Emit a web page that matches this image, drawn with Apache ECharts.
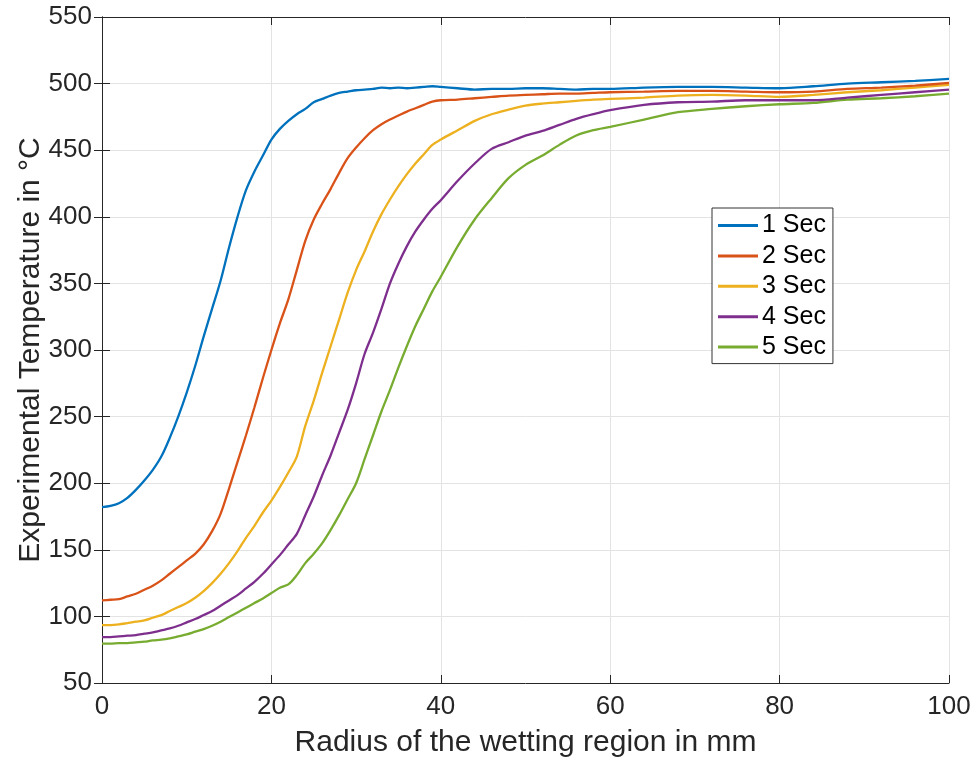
<!DOCTYPE html>
<html><head><meta charset="utf-8">
<script src="https://cdn.jsdelivr.net/npm/echarts@6/dist/echarts.min.js"></script>
<style>html,body{margin:0;padding:0;background:#fff}#c{width:977px;height:764px}</style>
</head><body><div id="c"></div>
<script>
var xValues = [0,1,2,3,4,5,6,7,8,9,10,11,12,13,14,15,16,17,18,19,20,21,22,23,24,25,26,27,28,29,30,31,32,33,34,35,36,37,38,39,40,
  42,44,46,48,50,52,54,56,58,60,64,68,72,76,80,84,88,92,96,100];
var sec1 = [182,183,185,189,195,202,210,220,234,250,268,288,310,331,352,377,400,420,434,446,458,466,472,477,481,486,488.5,491,493,494,495,495.5,496,497,496.5,497,496.5,497,497.5,498,497.5,
  496.5,495.5,496,496,496.5,496.5,496,495.5,496,496,497,497.5,497.5,497,496.5,498,500,501,502,503.5];
var sec2 = [112,112.5,113,115,117,120,123,127,132,137,142,147,154,164,177,196,216,236,257,279,300,320,338,360,382,398,410,421,433,444,452,459,465,469.5,473,476,479,481.5,484,486.5,487.5,
  488,489,490,491,491.5,492,492.5,492.5,493,493.5,494,494.5,494.5,494,493.5,494,496,497,498.5,500.5];
var sec3 = [93.5,93.5,94,95,96,97,99,101,104,107,110,114,119,125,132,140,149,159,168,178,187,197,208,220,243,262,283,303,323,343,360,374,389,402,413,423,432,440,447,454,458,
  465,472,477,480.5,483.5,485,486,487,488,488.5,489.5,491,491.5,491,490,491.5,493.5,495,497,499];
var sec4 = [84.5,84.5,85,85.5,86,87,88,89.5,91,93,95.5,98,101,104,108,112,116,121,126,132,139,146,154,162,176,190,206,221,238,255,275,297,313,331,350,365,378,389,398,406,412.5,
  427,440,451,456,461,464.5,469,473.5,477,480,484,486,486.5,487.5,487.5,487.5,489.5,491.5,493.5,495.5];
var sec5 = [79.5,79.5,80,80,80.5,81,82,82.5,83.5,85,86.5,88.5,90.5,93,96,99.5,103,106.5,110,113.5,117.5,121.5,124,131,140,147,155,165,176,188,200,218,236,254,270,287,303,318,331,344,355,
  378,398,414,429,439,446,454,461,465,467.5,473,478.5,481,483,484.5,485.5,488,489,490.5,492.5];
var seriesNames = ['1 Sec','2 Sec','3 Sec','4 Sec','5 Sec'];
var colors = ['#0072BD','#D95319','#EDB120','#7E2F8E','#77AC30'];
var xTicks = [0,20,40,60,80,100];
var yTicks = [50,100,150,200,250,300,350,400,450,500,550];

function pairs(ys){ return xValues.map(function(x,i){ return [x, ys[i]]; }); }
var allData = [sec1,sec2,sec3,sec4,sec5];
var font = 'Arial, "Liberation Sans", Helvetica, sans-serif';
var axisCol = '#262626';
var chart = echarts.init(document.getElementById('c'), null, {renderer:'canvas'});
var baseAxis = {
  axisLine:{show:true, lineStyle:{color:axisCol, width:1}},
  axisTick:{show:true, inside:true, length:8, lineStyle:{color:axisCol}},
  splitLine:{show:false}
};
chart.setOption({
  animation:false,
  color: colors,
  grid:{left:102, right:28, top:17, bottom:81, containLabel:false},
  legend:{
    data: seriesNames,
    left:712, top:208, orient:'vertical',
    backgroundColor:'#fff', borderColor:'#333', borderWidth:1,
    padding:[5,7,4,6], itemGap:5.4, itemWidth:40, itemHeight:3, icon:'rect',
    textStyle:{fontFamily:font, fontSize:25, color:'#000', lineHeight:25, padding:[0,0,0,-1]}
  },
  xAxis:[
    Object.assign({}, baseAxis, {
      type:'value', min:0, max:100, interval:20, position:'bottom',
      name:'Radius of the wetting region in mm', nameLocation:'middle', nameGap:45,
      nameMoveOverlap:false,
      nameTextStyle:{fontFamily:font, fontSize:30, color:axisCol},
      axisLabel:{fontFamily:font, fontSize:26, color:axisCol, margin:11},
      splitLine:{show:true, lineStyle:{color:'#e3e3e3', width:1}}
    }),
    Object.assign({}, baseAxis, {
      type:'value', min:0, max:100, interval:20, position:'top',
      axisLabel:{show:false}
    })
  ],
  yAxis:[
    Object.assign({}, baseAxis, {
      type:'value', min:50, max:550, interval:50, position:'left',
      name:'Experimental Temperature in \u00B0C', nameLocation:'middle', nameGap:56,
      nameMoveOverlap:false,
      nameTextStyle:{fontFamily:font, fontSize:30, color:axisCol},
      axisLabel:{fontFamily:font, fontSize:26, color:axisCol, margin:10},
      splitLine:{show:true, lineStyle:{color:'#e3e3e3', width:1}}
    }),
    Object.assign({}, baseAxis, {
      type:'value', min:50, max:550, interval:50, position:'right',
      axisLabel:{show:false}
    })
  ],
  series: seriesNames.map(function(n,i){
    return {name:n, type:'line', data:pairs(allData[i]), showSymbol:false, symbol:'none',
      smooth:0.3, lineStyle:{width:2.3, color:colors[i]}, itemStyle:{color:colors[i]}, z:10-i};
  })
});
</script></body></html>
